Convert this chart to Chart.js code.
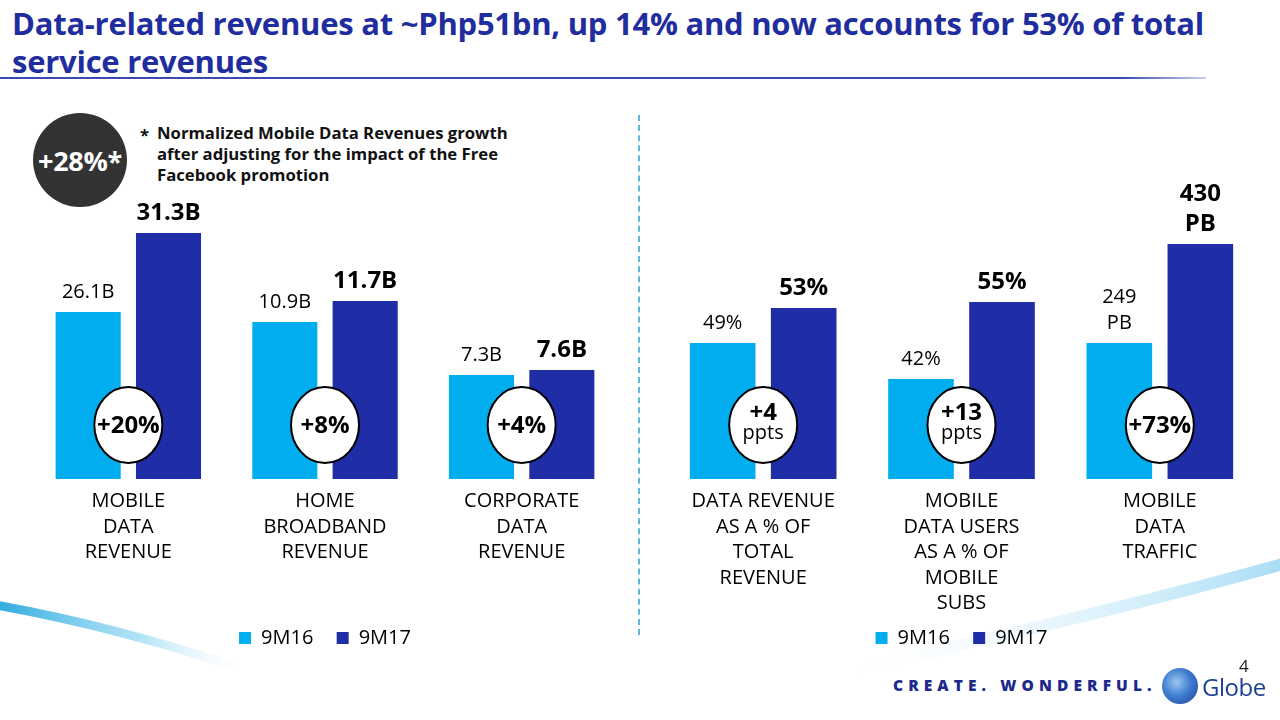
<!DOCTYPE html>
<html>
<head>
<meta charset="utf-8">
<script src="https://cdn.jsdelivr.net/npm/chart.js@4.4.0/dist/chart.umd.min.js"></script>
<style>
  html, body { margin: 0; padding: 0; background: #fff; }
  body { width: 1280px; height: 720px; position: relative; overflow: hidden; font-family: "Open Sans", sans-serif; }
  #title { position: absolute; left: 12px; top: 4px; font-weight: 700; font-size: 31px; line-height: 38px; color: #1f2d9e; white-space: nowrap; letter-spacing: -0.25px; }
  #rule { position: absolute; left: 0; top: 77px; width: 1206px; height: 2px; background: linear-gradient(to right, #3a4bb0 0%, #3a4bb0 93%, #c9cfee 100%); }
  #badge { position: absolute; left: 33px; top: 113px; width: 94px; height: 94px; border-radius: 50%; background: #333333; color: #fff; font-weight: 700; font-size: 27px; display: flex; align-items: center; justify-content: center; letter-spacing: -0.3px; }
  #note { position: absolute; left: 140px; top: 122px; font-weight: 700; font-size: 16.7px; line-height: 21px; color: #111; }
  #note .star { position: absolute; left: 0; top: 2px; }
  #note .txt { margin-left: 17px; white-space: nowrap; }
  #divider { position: absolute; left: 638px; top: 115px; width: 0; height: 520px; border-left: 2px dashed #5fb8dc; }
  .cv { position: absolute; top: 100px; }
  #footer { position: absolute; left: 893px; top: 674px; font-weight: 800; font-size: 15.5px; letter-spacing: 5.1px; color: #1c2a8c; white-space: nowrap; }
  #globeLogo { position: absolute; left: 1162px; top: 668px; width: 36px; height: 36px; border-radius: 50%; background: radial-gradient(circle at 40% 40%, #9cc6f0 0%, #3f7fd0 45%, #1b3c9a 100%); }
  #globeTxt { position: absolute; left: 1202px; top: 670px; font-size: 24px; color: #1c3f94; font-family: "Open Sans", sans-serif; letter-spacing: -0.5px; }
  #pageNo { position: absolute; left: 1239px; top: 654px; font-size: 17px; color: #222; }
  #swoosh { position: absolute; left: 0; top: 0; }
</style>
</head>
<body>
<svg id="swoosh" width="1280" height="720">
  <defs>
    <linearGradient id="gL" x1="0" y1="0" x2="1" y2="0">
      <stop offset="0" stop-color="#1aa3dc" stop-opacity="0.95"/>
      <stop offset="0.6" stop-color="#7fd0f0" stop-opacity="0.6"/>
      <stop offset="1" stop-color="#d5effa" stop-opacity="0"/>
    </linearGradient>
    <linearGradient id="gR" x1="1" y1="0" x2="0" y2="0">
      <stop offset="0" stop-color="#8fd3f2" stop-opacity="0.8"/>
      <stop offset="1" stop-color="#e6f5fc" stop-opacity="0"/>
    </linearGradient>
  </defs>
  <path d="M -10 604 Q 110 625 240 668" stroke="url(#gL)" stroke-width="9" fill="none"/>
  <path d="M 1290 562 Q 1120 610 860 668" stroke="url(#gR)" stroke-width="12" fill="none"/>
</svg>

<div id="title">Data-related revenues at ~Php51bn, up 14% and now accounts for 53% of total<br>service revenues</div>
<div id="rule"></div>
<div id="badge">+28%*</div>
<div id="note"><span class="star">*</span><div class="txt">Normalized Mobile Data Revenues growth<br>after adjusting for the impact of the Free<br>Facebook promotion</div></div>
<div id="divider"></div>

<canvas id="leftChart" class="cv" width="640" height="570" style="left:0px;width:640px;height:570px"></canvas>
<canvas id="rightChart" class="cv" width="640" height="570" style="left:640px;width:640px;height:570px"></canvas>

<div id="footer">CREATE. WONDERFUL.</div>
<div id="globeLogo"></div>
<div id="globeTxt">Globe</div>
<div id="pageNo">4</div>

<script>
// ---------- DATA ----------
const seriesNames = ['9M16', '9M17'];

const leftCategories = [['MOBILE', 'DATA', 'REVENUE'], ['HOME', 'BROADBAND', 'REVENUE'], ['CORPORATE', 'DATA', 'REVENUE']];
const left9M16 = [26.1, 10.9, 7.3];
const left9M17 = [31.3, 11.7, 7.6];
const leftLabels9M16 = [['26.1B'], ['10.9B'], ['7.3B']];
const leftLabels9M17 = [['31.3B'], ['11.7B'], ['7.6B']];
const leftGrowth = [['+20%'], ['+8%'], ['+4%']];

const rightCategories = [['DATA REVENUE', 'AS A % OF', 'TOTAL', 'REVENUE'], ['MOBILE', 'DATA USERS', 'AS A % OF', 'MOBILE', 'SUBS'], ['MOBILE', 'DATA', 'TRAFFIC']];
const right9M16 = [49, 42, 249];
const right9M17 = [53, 55, 430];
const rightLabels9M16 = [['49%'], ['42%'], ['249', 'PB']];
const rightLabels9M17 = [['53%'], ['55%'], ['430', 'PB']];
const rightGrowth = [['+4', 'ppts'], ['+13', 'ppts'], ['+73%']];

// each group is drawn on its own (hidden) value axis, as in the source slide
const leftAxisRanges = [[15.1, 34.8], [4.92, 16.31], [1.06, 19.0]];
const rightAxisRanges = [[33.46, 67.63], [25.12, 75.6], [0, 547]];

// ---------- STYLE ----------
const COLOR_16 = '#00aeef';
const COLOR_17 = '#1f2ea6';
const FONT = '"Open Sans", sans-serif';

const barLabelPlugin = {
  id: 'barLabels',
  afterDatasetsDraw(chart) {
    const ctx = chart.ctx;
    const growth = chart.options.plugins.barLabels.growth;
    ctx.save();
    ctx.textAlign = 'center';
    ctx.textBaseline = 'middle';
    const pairs = {};
    chart.data.datasets.forEach((ds, di) => {
      const meta = chart.getDatasetMeta(di);
      meta.data.forEach((bar, i) => {
        if (ds.data[i] === null || ds.data[i] === undefined) return;
        const lines = ds.valueText[i];
        const bold = ds.series === 1;
        ctx.fillStyle = '#000';
        ctx.font = (bold ? '700 24px ' : '400 20px ') + FONT;
        const step = bold ? 30 : 26;
        const lastY = bar.y - 20;
        for (let k = 0; k < lines.length; k++) {
          ctx.fillText(lines[k], bar.x, lastY - (lines.length - 1 - k) * step);
        }
        (pairs[i] = pairs[i] || []).push(bar.x);
      });
    });
    Object.keys(pairs).forEach((i) => {
      const xs = pairs[i];
      const cx = (Math.min(...xs) + Math.max(...xs)) / 2;
      const cy = chart.chartArea.bottom - 54;
      ctx.beginPath();
      ctx.ellipse(cx, cy, 34, 38, 0, 0, Math.PI * 2);
      ctx.fillStyle = '#fff';
      ctx.fill();
      ctx.lineWidth = 2;
      ctx.strokeStyle = '#000';
      ctx.stroke();
      ctx.fillStyle = '#000';
      const g = growth[i];
      if (g.length === 1) {
        ctx.font = '700 24px ' + FONT;
        ctx.fillText(g[0], cx, cy + 1);
      } else {
        ctx.font = '700 24px ' + FONT;
        ctx.fillText(g[0], cx, cy - 12);
        ctx.font = '400 20px ' + FONT;
        ctx.fillText(g[1], cx, cy + 8);
      }
    });
    ctx.restore();
  }
};

function buildChart(canvasId, categories, vals16, vals17, txt16, txt17, growth, ranges, pad) {
  const datasets = [];
  const scales = {
    x: {
      stacked: false,
      grid: { display: false, drawTicks: false },
      border: { display: false },
      ticks: { color: '#000', padding: 10, maxRotation: 0, autoSkip: false, font: { family: FONT, size: 20, lineHeight: '25.5px' } },
      afterFit: (s) => { s.height = 139; }
    }
  };
  categories.forEach((c, g) => {
    [vals16, vals17].forEach((vals, s) => {
      const data = categories.map((_, j) => (j === g ? vals[g] : null));
      datasets.push({
        label: seriesNames[s],
        series: s,
        data: data,
        valueText: categories.map((_, j) => (j === g ? (s === 0 ? txt16[g] : txt17[g]) : null)),
        backgroundColor: s === 0 ? COLOR_16 : COLOR_17,
        borderWidth: 0,
        yAxisID: 'y' + g,
        base: ranges[g][0]
      });
    });
    scales['y' + g] = { display: false, min: ranges[g][0], max: ranges[g][1] };
  });
  return new Chart(document.getElementById(canvasId), {
    type: 'bar',
    data: { labels: categories, datasets: datasets },
    options: {
      responsive: false,
      animation: false,
      devicePixelRatio: 1,
      layout: { padding: { top: 80, bottom: 12, left: pad[0], right: pad[1] } },
      datasets: { bar: { categoryPercentage: 0.817, barPercentage: 0.81, skipNull: true } },
      scales: scales,
      plugins: {
        tooltip: { enabled: false },
        barLabels: { growth: growth },
        legend: {
          position: 'bottom',
          labels: {
            color: '#000',
            boxWidth: 12,
            boxHeight: 12,
            padding: 10,
            font: { family: FONT, size: 20 },
            filter: (item) => item.datasetIndex < 2,
            generateLabels: (chart) => {
              const items = Chart.defaults.plugins.legend.labels.generateLabels(chart);
              // extra gap after the first legend entry, as on the slide
              return items.map((it) => (it.datasetIndex === 0 ? Object.assign(it, { text: it.text + '\u2002\u2009' }) : it));
            }
          }
        }
      }
    },
    plugins: [barLabelPlugin]
  });
}

buildChart('leftChart', leftCategories, left9M16, left9M17, leftLabels9M16, leftLabels9M17, leftGrowth, leftAxisRanges, [30, 20]);
buildChart('rightChart', rightCategories, right9M16, right9M17, rightLabels9M16, rightLabels9M17, rightGrowth, rightAxisRanges, [24, 21]);
</script>
</body>
</html>
